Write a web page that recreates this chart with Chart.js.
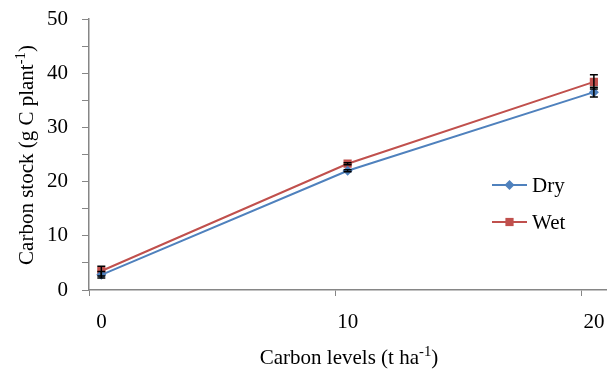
<!DOCTYPE html>
<html>
<head>
<meta charset="utf-8">
<script src="https://cdn.jsdelivr.net/npm/chart.js@4.4.1/dist/chart.umd.min.js"></script>
<style>
  html, body { margin: 0; padding: 0; background: #fff; }
  #wrap { width: 612px; height: 378px; position: relative; }
</style>
</head>
<body>
<div id="wrap"><canvas id="graphe"></canvas></div>
<script>
// niveaux de carbone (t/ha)
var niveaux = [0, 10, 20];
// stock de carbone (g C / plante)
var sec = [2.8, 22.0, 36.5];
var humide = [3.5, 23.3, 38.4];
// écarts types
var secErr = [0.6, 0.2, 0.9];
var humideErr = [0.9, 0.2, 1.3];
var ticksY = [0, 10, 20, 30, 40, 50];

var bleu = '#4F81BD';
var rouge = '#C0504D';
var police = "'Liberation Serif', 'Times New Roman', serif";
var taille = 21;

function points (valeurs) {
    return niveaux.map(function (x, i) { return { x: x, y: valeurs[i] }; });
}

// texte avec exposant : morceaux [texte, exposant?]
function texteExposant (ctx, morceaux, x, y, t) {
    var total = 0;
    morceaux.forEach(function (m) {
        ctx.font = (m[1] ? t * 0.7 : t) + 'px ' + police;
        total += ctx.measureText(m[0]).width;
    });
    var pos = x - total / 2;
    morceaux.forEach(function (m) {
        ctx.font = (m[1] ? t * 0.7 : t) + 'px ' + police;
        ctx.fillText(m[0], pos, m[1] ? y - t * 0.3 : y);
        pos += ctx.measureText(m[0]).width;
    });
}

var habillage = {
    id: 'habillage',
    afterDatasetsDraw: function (chart) {
        var ctx = chart.ctx;
        var sx = chart.scales.x, sy = chart.scales.y;
        // barres d'erreur
        ctx.save();
        ctx.strokeStyle = '#000';
        ctx.lineWidth = 1.5;
        [[sec, secErr], [humide, humideErr]].forEach(function (s) {
            niveaux.forEach(function (n, i) {
                var px = sx.getPixelForValue(n);
                var haut = sy.getPixelForValue(s[0][i] + s[1][i]);
                var bas = sy.getPixelForValue(s[0][i] - s[1][i]);
                ctx.beginPath();
                ctx.moveTo(px, haut); ctx.lineTo(px, bas);
                ctx.moveTo(px - 4, haut); ctx.lineTo(px + 4, haut);
                ctx.moveTo(px - 4, bas); ctx.lineTo(px + 4, bas);
                ctx.stroke();
            });
        });
        ctx.restore();
    },
    afterDraw: function (chart) {
        var ctx = chart.ctx;
        ctx.save();
        ctx.fillStyle = '#000';
        ctx.textBaseline = 'middle';
        ctx.textAlign = 'left';
        // titre axe x
        texteExposant(ctx, [['Carbon levels (t ha'], ['-1', true], [')']], 349, 358, taille);
        // titre axe y
        ctx.translate(27, 155);
        ctx.rotate(-Math.PI / 2);
        texteExposant(ctx, [['Carbon stock (g C plant'], ['-1', true], [')']], 0, 0, taille);
        ctx.restore();

        // légende
        ctx.save();
        chart.data.datasets.forEach(function (ds, i) {
            var y = 185 + i * 37;
            ctx.strokeStyle = ds.borderColor;
            ctx.lineWidth = 2;
            ctx.beginPath();
            ctx.moveTo(492, y); ctx.lineTo(527, y);
            ctx.stroke();
            ctx.fillStyle = ds.backgroundColor;
            Chart.helpers.drawPoint(ctx, { pointStyle: ds.pointStyle, radius: ds.pointRadius, borderWidth: 0 }, 509.5, y);
            ctx.fillStyle = '#000';
            ctx.font = taille + 'px ' + police;
            ctx.textBaseline = 'middle';
            ctx.fillText(ds.label, 532, y + 1);
        });
        ctx.restore();
    }
};

var ctx = document.getElementById('graphe').getContext('2d');
var graphe = new Chart(ctx, {
    type: 'line',
    data: {
        datasets: [{
            label: 'Dry',
            data: points(sec),
            borderColor: bleu,
            backgroundColor: bleu,
            borderWidth: 2,
            pointStyle: 'rectRot',
            pointRadius: 5,
            pointBorderWidth: 0
        }, {
            label: 'Wet',
            data: points(humide),
            borderColor: rouge,
            backgroundColor: rouge,
            borderWidth: 2,
            pointStyle: 'rect',
            pointRadius: 5.8,
            pointBorderWidth: 0
        }]
    },
    options: {
        responsive: true,
        maintainAspectRatio: false,
        animation: false,
        layout: { padding: { left: 0, right: 0, top: 19, bottom: 0 } },
        plugins: { legend: { display: false }, tooltip: { enabled: false } },
        scales: {
            x: {
                type: 'linear',
                min: -0.5,
                max: 20.5,
                afterBuildTicks: function (axe) {
                    axe.ticks = [-0.5, 9.5, 19.5].map(function (v) { return { value: v }; });
                },
                afterFit: function (axe) {
                    axe.height = 88;
                    axe.paddingLeft = 0;
                    axe.paddingRight = 0;
                },
                ticks: {
                    callback: function (v) { return String(v + 0.5); },
                    labelOffset: 12.5,
                    padding: 14,
                    color: '#000',
                    maxRotation: 0,
                    autoSkip: false,
                    font: { family: police, size: taille }
                },
                grid: { drawOnChartArea: false, drawTicks: true, tickLength: 6, color: '#868686' },
                border: { color: '#868686', width: 1.5 }
            },
            y: {
                min: 0,
                max: 50,
                afterBuildTicks: function (axe) {
                    var t = [];
                    for (var v = 0; v <= 50; v += 5) t.push({ value: v });
                    axe.ticks = t;
                },
                afterFit: function (axe) {
                    axe.width = 89;
                    axe.paddingTop = 0;
                    axe.paddingBottom = 0;
                },
                ticks: {
                    callback: function (v) { return ticksY.indexOf(v) >= 0 ? String(v) : ''; },
                    padding: 14,
                    color: '#000',
                    autoSkip: false,
                    font: { family: police, size: taille }
                },
                grid: { drawOnChartArea: false, drawTicks: true, tickLength: 7, color: '#868686' },
                border: { color: '#868686', width: 1.5 }
            }
        }
    },
    plugins: [habillage]
});
</script>
</body>
</html>
